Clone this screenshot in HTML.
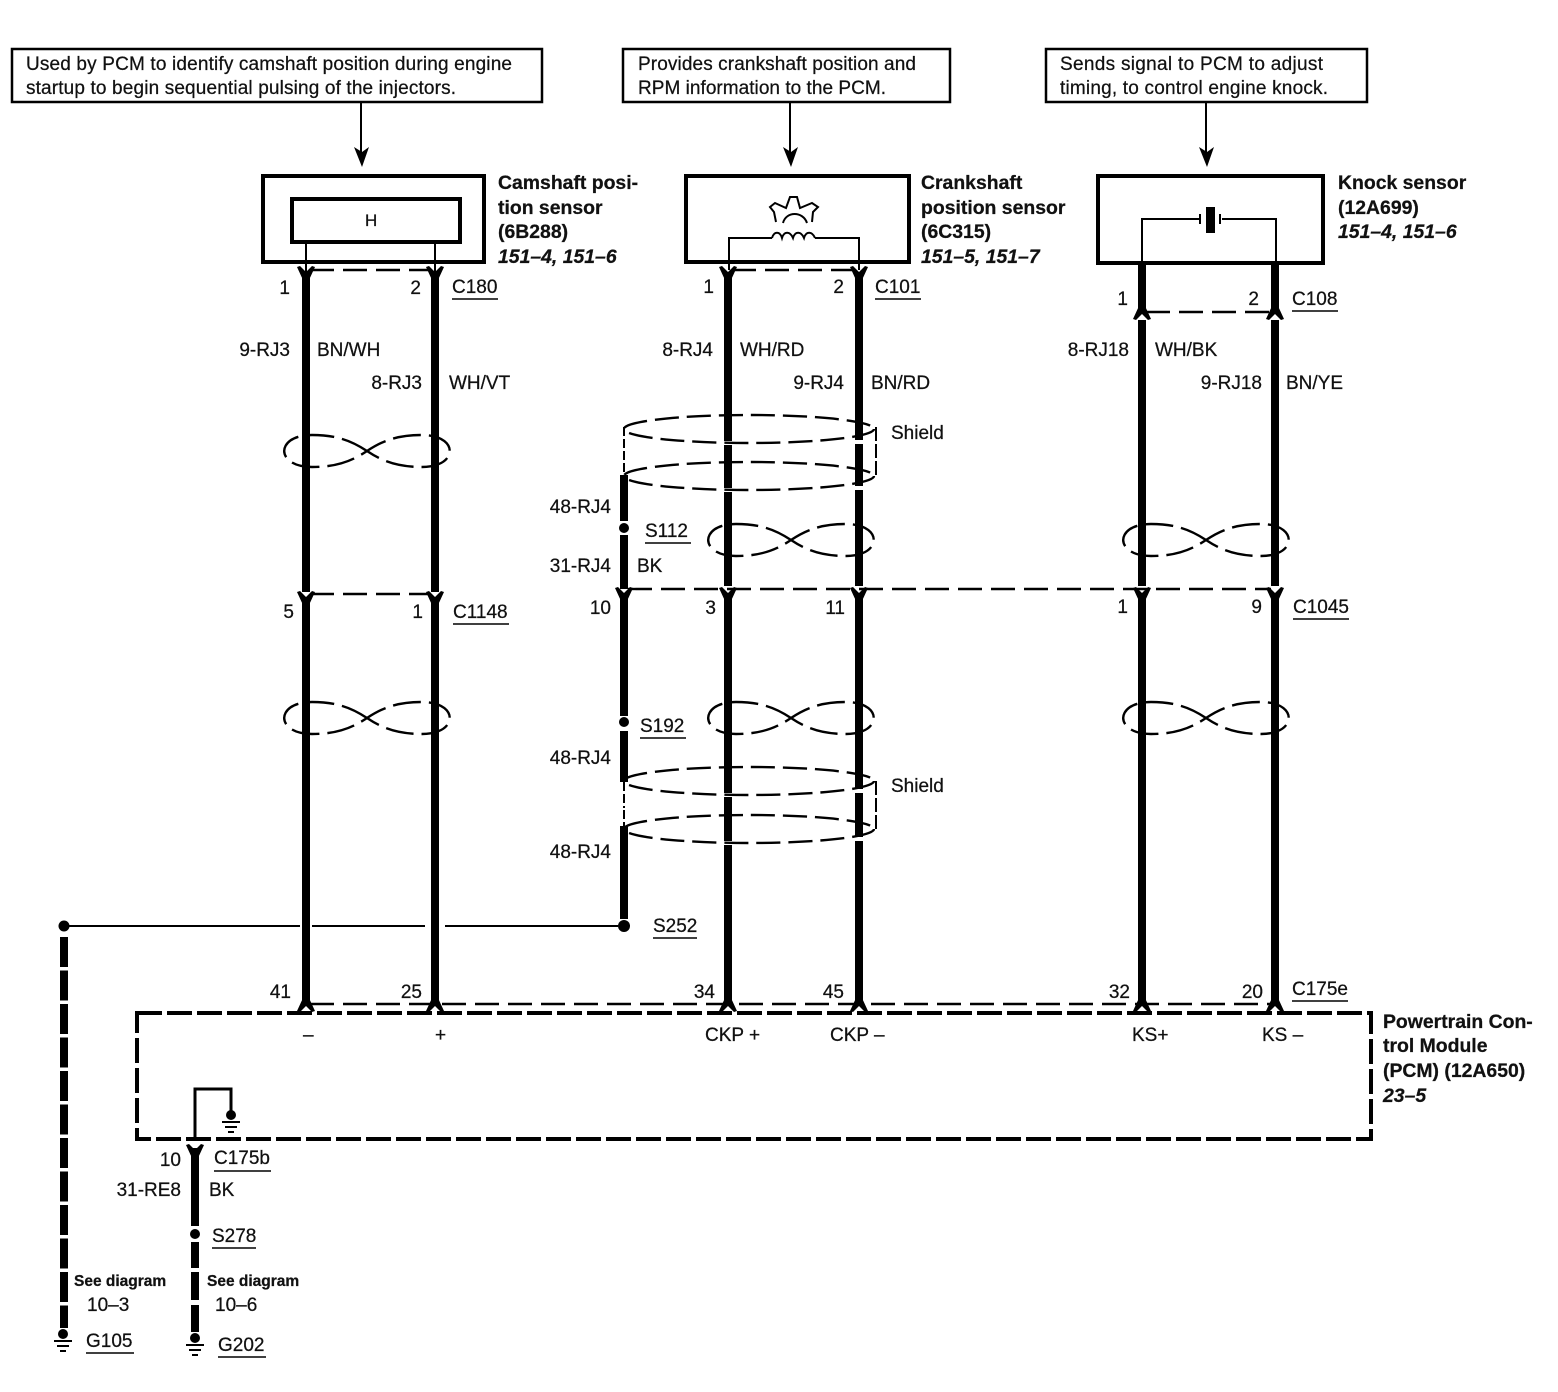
<!DOCTYPE html>
<html><head><meta charset="utf-8"><style>
html,body{margin:0;padding:0;background:#fff}
svg{display:block}
text{font-family:"Liberation Sans",sans-serif;font-size:19px;fill:#111;stroke:#111;stroke-width:.25px}
.b{font-weight:bold;font-size:19.4px}
.i{font-weight:bold;font-style:italic;font-size:19.4px}
.e{text-anchor:end}
.s{font-size:15.5px;font-weight:bold}
.w{stroke:#000;stroke-width:8;fill:none}
.t{stroke:#000;stroke-width:2;fill:none}
.d{stroke:#000;stroke-width:2.4;fill:none;stroke-dasharray:24 9}
.u{stroke:#000;stroke-width:1.5}
.v{stroke:#000;stroke-width:3;fill:none}
.cut{stroke:#fff;stroke-width:4;fill:none}
</style></head><body>
<svg width="1558" height="1392" viewBox="0 0 1558 1392" xmlns="http://www.w3.org/2000/svg">
<defs>
<g id="tw"><path d="M0 0C-15 -10 -30 -16 -55 -16C-92 -16 -92 16 -55 16C-30 16 -15 10 0 0C15 -10 30 -16 55 -16C92 -16 92 16 55 16C30 16 15 10 0 0" fill="none" stroke="#000" stroke-width="2.4" stroke-dasharray="28 8"/></g>
<path id="dn" d="M-9 -5L-6 -6L0 0L6 -6L9 -5L3 8L-3 8Z" fill="#000"/>
<path id="up" d="M-9 5L-6 6L0 0L6 6L9 5L3 -8L-3 -8Z" fill="#000"/>
<g id="gnd"><circle cx="0" cy="-4" r="5" fill="#000"/><path d="M-9 3H9M-6 8H6M-3 13H3" stroke="#000" stroke-width="2"/></g>
<g id="sh"><ellipse cx="749" cy="0" rx="125" ry="14" fill="none" stroke="#000" stroke-width="2.4" stroke-dasharray="24 8"/></g>
</defs>

<!-- top note boxes -->
<rect x="12" y="49" width="530" height="53" fill="none" stroke="#000" stroke-width="2.5"/>
<rect x="623" y="49" width="327" height="53" fill="none" stroke="#000" stroke-width="2.5"/>
<rect x="1046" y="49" width="321" height="53" fill="none" stroke="#000" stroke-width="2.5"/>
<text x="26" y="70" textLength="486">Used by PCM to identify camshaft position during engine</text>
<text x="26" y="94" textLength="430">startup to begin sequential pulsing of the injectors.</text>
<text x="638" y="70" textLength="278">Provides crankshaft position and</text>
<text x="638" y="94" textLength="248">RPM information to the PCM.</text>
<text x="1060" y="70" textLength="263">Sends signal to PCM to adjust</text>
<text x="1060" y="94" textLength="268">timing, to control engine knock.</text>
<path class="t" d="M361 102V155M790 102V155M1206 102V155"/>
<path d="M354 147L362 167L369 147L362 152ZM783 147L791 167L798 147L791 152ZM1199 147L1207 167L1214 147L1207 152Z" fill="#000"/>

<!-- sensors -->
<rect x="263" y="176" width="221" height="86" fill="none" stroke="#000" stroke-width="4"/>
<rect x="292" y="199" width="168" height="43" fill="none" stroke="#000" stroke-width="4"/>
<text x="365" y="226" style="font-size:17px">H</text>
<rect x="686" y="176" width="223" height="86" fill="none" stroke="#000" stroke-width="4"/>
<rect x="1098" y="176" width="225" height="87" fill="none" stroke="#000" stroke-width="4"/>
<path class="t" d="M306 242V272M435 242V272"/>
<!-- crank symbol -->
<path d="M729 270L729 238H772M815 238H859V270" class="t"/>
<path d="M772 238c2 -7 8 -7 10 0c2 -7 8 -7 11 0c2 -7 8 -7 11 0c2 -7 8 -7 11 0" class="t"/>
<path d="M776 222L774 212L770 207L775 203L786 208L790 197L797 197L800 208L812 203L818 207L813 212L812 222M783 223C786 211 803 211 807 223" class="t"/>
<!-- knock symbol -->
<path class="t" d="M1142 263V219H1199M1222 219H1276V263"/>
<rect x="1206" y="207" width="9" height="26" fill="#000"/>
<path d="M1200 214V224M1220 214V224" stroke="#000" stroke-width="2"/>

<!-- sensor labels -->
<text x="498" y="189" class="b">Camshaft posi-</text>
<text x="498" y="214" class="b">tion sensor</text>
<text x="498" y="238" class="b">(6B288)</text>
<text x="498" y="263" class="i">151–4, 151–6</text>
<text x="921" y="189" class="b">Crankshaft</text>
<text x="921" y="214" class="b">position sensor</text>
<text x="921" y="238" class="b">(6C315)</text>
<text x="921" y="263" class="i">151–5, 151–7</text>
<text x="1338" y="189" class="b">Knock sensor</text>
<text x="1338" y="214" class="b">(12A699)</text>
<text x="1338" y="238" class="i">151–4, 151–6</text>

<!-- main wires -->
<path class="w" d="M306 272V592M306 598V1004M435 272V592M435 598V1004"/>
<path class="w" d="M728 272V586M728 594V1004M859 272V586M859 594V1004"/>
<path class="w" d="M1142 263V310M1142 320V586M1142 594V1004M1275 263V310M1275 320V586M1275 594V1004"/>
<!-- shield wire -->
<path class="w" d="M624 475V521M624 535V589M624 595V716M624 731V782M624 826V919"/>
<path class="t" d="M624 427V475" stroke-dasharray="9 3"/>
<path class="t" d="M876 427V476" stroke-dasharray="14 3"/>
<path class="t" d="M624 782V808M624 810V826" stroke-dasharray="9 3"/>
<path class="t" d="M876 781V829" stroke-dasharray="14 3"/>
<circle cx="624" cy="528" r="5" fill="#000"/><circle cx="624" cy="722" r="5" fill="#000"/><circle cx="624" cy="926" r="6" fill="#000"/>

<!-- shield cuts -->
<path class="cut" d="M722 443H734M853 442H865M722 490H734M853 488H865M722 795H734M853 791H865M722 843H734M853 839H865"/>
<use href="#sh" x="0" y="429"/><use href="#sh" x="0" y="476"/><use href="#sh" x="0" y="781"/><use href="#sh" x="0" y="829"/>

<!-- twists -->
<use href="#tw" x="367" y="451"/><use href="#tw" x="367" y="718"/>
<use href="#tw" x="791" y="540"/><use href="#tw" x="791" y="718"/>
<use href="#tw" x="1206" y="540"/><use href="#tw" x="1206" y="718"/>

<!-- connector dashes -->
<path class="d" d="M310 270H431"/><path class="d" d="M732 270H855"/>
<path class="d" d="M1146 312H1271"/><path class="d" d="M310 594H431"/>
<path class="d" d="M628 589H1271"/>
<path class="d" d="M310 1004H1271" stroke-dasharray="22 5"/>
<use href="#dn" x="306" y="272"/><use href="#dn" x="435" y="272"/>
<use href="#dn" x="728" y="272"/><use href="#dn" x="859" y="272"/>
<use href="#up" x="1142" y="314"/><use href="#up" x="1275" y="314"/>
<use href="#dn" x="306" y="597"/><use href="#dn" x="435" y="597"/>
<use href="#dn" x="624" y="593"/><use href="#dn" x="728" y="593"/><use href="#dn" x="859" y="593"/><use href="#dn" x="1142" y="593"/><use href="#dn" x="1275" y="593"/>
<use href="#up" x="306" y="1006"/><use href="#up" x="435" y="1006"/><use href="#up" x="728" y="1006"/><use href="#up" x="859" y="1006"/><use href="#up" x="1142" y="1006"/><use href="#up" x="1275" y="1006"/>

<!-- S252 line -->
<path class="t" d="M64 926H300M312 926H425M445 926H618"/>
<circle cx="64" cy="926" r="5.5" fill="#000"/>
<path d="M64 937V1328" stroke="#000" stroke-width="8" fill="none" stroke-dasharray="30 3.5"/>
<use href="#gnd" x="63" y="1338"/>

<!-- PCM -->
<rect x="137" y="1013" width="1234" height="126" fill="none" stroke="#000" stroke-width="4" stroke-dasharray="25 5"/>
<path class="v" d="M195 1140V1089H231V1112"/>
<use href="#gnd" x="231" y="1119"/>
<use href="#dn" x="195" y="1150"/>
<path class="w" d="M195 1148V1226M195 1242V1268M195 1272V1300M195 1305V1332"/>
<circle cx="195" cy="1234" r="5" fill="#000"/>
<use href="#gnd" x="195" y="1342"/>

<!-- labels -->
<text x="290" y="294" class="e">1</text><text x="421" y="294" class="e">2</text>
<text x="452" y="293">C180</text><path class="u" d="M452 299H498"/>
<text x="290" y="356" class="e">9-RJ3</text><text x="317" y="356">BN/WH</text>
<text x="422" y="389" class="e">8-RJ3</text><text x="449" y="389">WH/VT</text>
<text x="294" y="618" class="e">5</text><text x="423" y="618" class="e">1</text>
<text x="453" y="618">C1148</text><path class="u" d="M453 624H509"/>

<text x="714" y="293" class="e">1</text><text x="844" y="293" class="e">2</text>
<text x="875" y="293">C101</text><path class="u" d="M875 299H921"/>
<text x="713" y="356" class="e">8-RJ4</text><text x="740" y="356">WH/RD</text>
<text x="844" y="389" class="e">9-RJ4</text><text x="871" y="389">BN/RD</text>
<text x="891" y="439">Shield</text><text x="891" y="792">Shield</text>
<text x="611" y="513" class="e">48-RJ4</text>
<text x="645" y="537">S112</text><path class="u" d="M645 543H691"/>
<text x="611" y="572" class="e">31-RJ4</text><text x="637" y="572">BK</text>
<text x="611" y="614" class="e">10</text><text x="716" y="614" class="e">3</text><text x="845" y="614" class="e">11</text>
<text x="640" y="732">S192</text><path class="u" d="M640 738H686"/>
<text x="611" y="764" class="e">48-RJ4</text><text x="611" y="858" class="e">48-RJ4</text>
<text x="653" y="932">S252</text><path class="u" d="M653 938H697"/>

<text x="1128" y="305" class="e">1</text><text x="1259" y="305" class="e">2</text>
<text x="1292" y="305">C108</text><path class="u" d="M1292 311H1338"/>
<text x="1129" y="356" class="e">8-RJ18</text><text x="1155" y="356">WH/BK</text>
<text x="1262" y="389" class="e">9-RJ18</text><text x="1286" y="389">BN/YE</text>
<text x="1128" y="613" class="e">1</text><text x="1262" y="613" class="e">9</text>
<text x="1293" y="613">C1045</text><path class="u" d="M1293 619H1349"/>

<text x="291" y="998" class="e">41</text><text x="422" y="998" class="e">25</text>
<text x="715" y="998" class="e">34</text><text x="844" y="998" class="e">45</text>
<text x="1130" y="998" class="e">32</text><text x="1263" y="998" class="e">20</text>
<text x="1292" y="995">C175e</text><path class="u" d="M1292 1001H1348"/>
<text x="303" y="1041">–</text><text x="435" y="1041">+</text>
<text x="705" y="1041">CKP +</text><text x="830" y="1041">CKP –</text>
<text x="1132" y="1041">KS+</text><text x="1262" y="1041">KS –</text>
<text x="1383" y="1028" class="b">Powertrain Con-</text>
<text x="1383" y="1052" class="b">trol Module</text>
<text x="1383" y="1077" class="b">(PCM) (12A650)</text>
<text x="1383" y="1102" class="i">23–5</text>

<text x="181" y="1166" class="e">10</text>
<text x="214" y="1164">C175b</text><path class="u" d="M214 1171H271"/>
<text x="181" y="1196" class="e">31-RE8</text><text x="209" y="1196">BK</text>
<text x="212" y="1242">S278</text><path class="u" d="M212 1248H256"/>
<text x="74" y="1286" class="s">See diagram</text><text x="207" y="1286" class="s">See diagram</text>
<text x="87" y="1311">10–3</text><text x="215" y="1311">10–6</text>
<text x="86" y="1347">G105</text><path class="u" d="M86 1353H134"/>
<text x="218" y="1351">G202</text><path class="u" d="M218 1357H266"/>
</svg>
</body></html>
